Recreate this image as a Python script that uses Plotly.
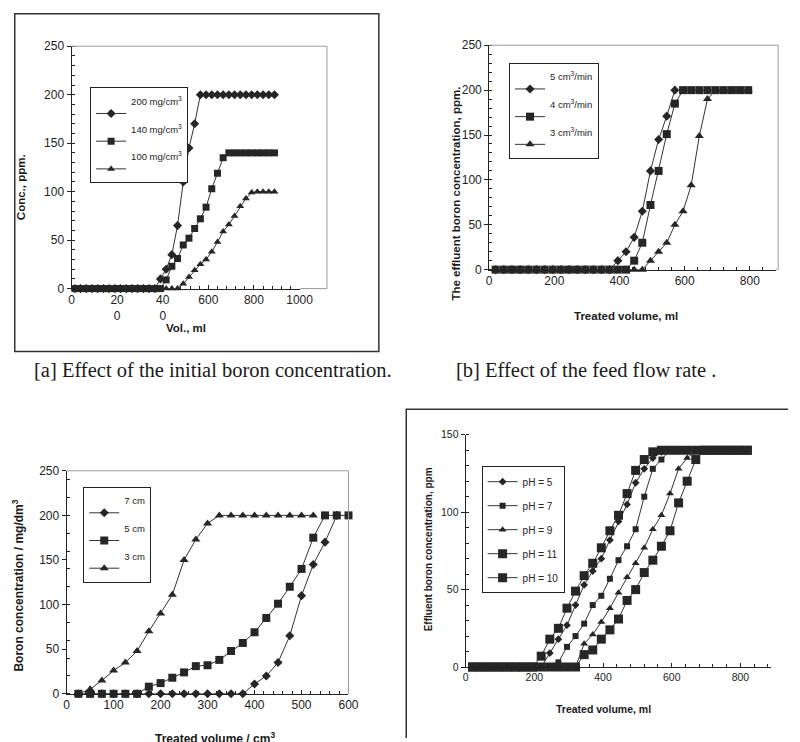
import plotly.graph_objects as go

W, H = 800, 742
def px(x): return x / W
def py(y): return 1 - y / H

# ---------------- data ----------------
# [a] effect of initial boron concentration
a_x = [15, 40, 65, 90, 115, 140, 165, 190, 215, 240, 265, 290, 315, 340, 365, 390, 415, 440,
       465, 490, 515, 540, 565, 590, 615, 640, 665, 690, 715, 740, 765, 790, 815, 840, 865, 890]
a_200 = [0, 0, 0, 0, 0, 0, 0, 0, 0, 0, 0, 0, 0, 0, 0, 10, 20, 35, 65, 110, 145, 170,
         200, 200, 200, 200, 200, 200, 200, 200, 200, 200, 200, 200, 200, 200]
a_140 = [0, 0, 0, 0, 0, 0, 0, 0, 0, 0, 0, 0, 0, 0, 0, 0, 9, 23, 31, 45, 52, 62, 72, 84, 103,
         119, 135, 140, 140, 140, 140, 140, 140, 140, 140, 140]
a_100 = [0, 0, 0, 0, 0, 0, 0, 0, 0, 0, 0, 0, 0, 0, 0, 0, 0, 0, 0, 5, 12, 19, 25, 30, 38, 48,
         59, 66, 75, 85, 93, 99, 100, 100, 100, 100]
a_names = ["200 mg/cm<sup>3</sup>", "140 mg/cm<sup>3</sup>", "100 mg/cm<sup>3</sup>"]
a_xticks = [0, 200, 400, 600, 800, 1000]
a_xticktext = ["0", "20<br>0", "40<br>0", "600", "800", "1000"]

# [b] effect of feed flow rate
b_x = [20, 45, 70, 95, 120, 145, 170, 195, 220, 245, 270, 295, 320, 345, 370, 395, 420, 445,
       470, 495, 520, 545, 570, 595, 620, 645, 670, 695, 720, 745, 770, 795]
b_x5 = [20, 45, 70, 95, 120, 145, 170, 195, 220, 245, 270, 295, 320, 345, 370, 395, 420, 445,
        470, 495, 520, 545, 570]
b_5 = [0, 0, 0, 0, 0, 0, 0, 0, 0, 0, 0, 0, 0, 0, 0, 10, 20, 36, 65, 110, 145, 171, 200]
b_4 = [0, 0, 0, 0, 0, 0, 0, 0, 0, 0, 0, 0, 0, 0, 0, 0, 0, 10, 30, 72, 110, 151, 185,
       200, 200, 200, 200, 200, 200, 200, 200, 200]
b_3 = [0, 0, 0, 0, 0, 0, 0, 0, 0, 0, 0, 0, 0, 0, 0, 0, 0, 0, 0, 10, 20, 30, 50, 65, 94,
       149, 190, 200, 200, 200, 200, 200]
b_names = ["5 cm<sup>3</sup>/min", "4 cm<sup>3</sup>/min", "3 cm<sup>3</sup>/min"]

# [c] effect of bed height
c_x = [25, 50, 75, 100, 125, 150, 175, 200, 225, 250, 275, 300, 325, 350, 375, 400, 425, 450,
       475, 500, 525, 550, 575, 600]
c_x7 = c_x[:23]
c_7 = [0, 0, 0, 0, 0, 0, 0, 0, 0, 0, 0, 0, 0, 0, 0, 11, 20, 35, 65, 110, 145, 170, 200]
c_5 = [0, 0, 0, 0, 0, 0, 8, 12, 18, 24, 31, 32, 38, 48, 57, 69, 85, 101, 120, 140, 175,
       200, 200, 200]
c_x3 = c_x[:21]
c_3 = [0, 5, 15, 26, 35, 48, 70, 90, 111, 150, 173, 191, 200, 200, 200, 200, 200, 200, 200,
       200, 200]
c_names = ["7 cm", "5 cm", "3 cm"]

# [d] effect of pH
d_x = [20, 45, 70, 95, 120, 145, 170, 195, 220, 245, 270, 295, 320, 345, 370, 395, 420, 445,
       470, 495, 520, 545, 570, 595, 620, 645, 670, 695, 720, 745, 770, 795, 820]
d_5 = [0, 0, 0, 0, 0, 0, 0, 0, 0, 9, 18, 27, 40, 53, 62, 70, 82, 94, 105, 119, 128, 135, 139,
       140, 140, 140, 140, 140, 140, 140, 140, 140, 140]
d_7 = [0, 0, 0, 0, 0, 0, 0, 0, 0, 0, 3, 13, 20, 28, 40, 46, 57, 69, 78, 89, 110, 128, 134,
       140, 140, 140, 140, 140, 140, 140, 140, 140, 140]
d_9 = [0, 0, 0, 0, 0, 0, 0, 0, 0, 0, 0, 0, 0, 15, 21, 29, 38, 48, 58, 67, 77, 89, 98, 112,
       128, 135, 140, 140, 140, 140, 140, 140, 140]
d_11 = [0, 0, 0, 0, 0, 0, 0, 0, 7, 18, 25, 38, 49, 59, 67, 77, 88, 98, 112, 127, 134, 139,
        140, 140, 140, 140, 140, 140, 140, 140, 140, 140, 140]
d_10 = [0, 0, 0, 0, 0, 0, 0, 0, 0, 0, 0, 0, 0, 8, 11, 18, 24, 31, 43, 50, 61, 69, 78, 88, 106,
        120, 134, 140, 140, 140, 140, 140, 140]
d_names = ["pH = 5", "pH = 7", "pH = 9", "pH = 11", "pH = 10"]

captions = ["[a] Effect of the initial boron concentration.", "[b] Effect of the feed flow rate ."]

# ---------------- styling ----------------
LINE = "#333333"
MK = "#262626"
FONT = "Liberation Sans, Arial, sans-serif"
SERIF = "Liberation Serif, Times New Roman, serif"

fig = go.Figure()

def add(xs, ys, name, sym, size, xa, ya, leg, group=None):
    fig.add_trace(go.Scatter(
        x=xs, y=ys, name=name, mode="lines+markers", xaxis=xa, yaxis=ya, legend=leg,
        legendgroup=group,
        line=dict(color=LINE, width=1),
        marker=dict(symbol=sym, size=size, color=MK, line=dict(width=0)),
        cliponaxis=False))

# two-line names so that the label sits above the key, as in the reference
def up(n):
    return n + "<br>\u00a0"

add(a_x, a_200, up(a_names[0]), "diamond", 7, "x", "y", "legend")
add(a_x, a_140, up(a_names[1]), "square", 7, "x", "y", "legend")
add(a_x, a_100, up(a_names[2]), "triangle-up", 7, "x", "y", "legend")

add(b_x5, b_5, up(b_names[0]), "diamond", 7, "x2", "y2", "legend2")
add(b_x, b_4, up(b_names[1]), "square", 8, "x2", "y2", "legend2")
add(b_x, b_3, up(b_names[2]), "triangle-up", 8, "x2", "y2", "legend2")

add(c_x7, c_7, up(c_names[0]), "diamond", 7, "x3", "y3", "legend3")
add(c_x, c_5, up(c_names[1]), "square", 8, "x3", "y3", "legend3")
add(c_x3, c_3, up(c_names[2]), "triangle-up", 8, "x3", "y3", "legend3")

add(d_x, d_5, d_names[0], "diamond", 6, "x4", "y4", "legend4", "d5")
add(d_x, d_7, d_names[1], "square", 6, "x4", "y4", "legend4", "d7")
add(d_x, d_9, d_names[2], "triangle-up", 7, "x4", "y4", "legend4", "d9")
add(d_x, d_11, d_names[3], "square", 9, "x4", "y4", "legend4", "d11")
add(d_x, d_10, d_names[4], "square", 9, "x4", "y4", "legend4", "d10")

def xax(dom, rng, dtick, minor, fs, anchor, **kw):
    d = dict(domain=[px(dom[0]), px(dom[1])], range=rng, dtick=dtick, anchor=anchor,
             showline=True, linecolor="#222", linewidth=1, showgrid=False, zeroline=False,
             ticks="inside", ticklen=4, tickcolor="#222",
             minor=dict(ticks="inside", ticklen=3, dtick=minor, tickcolor="#222", showgrid=False),
             tickfont=dict(family=FONT, size=fs, color="#222"), fixedrange=True)
    d.update(kw)
    return d

def yax(dom, rng, dtick, minor, fs, anchor):
    return dict(domain=[py(dom[1]), py(dom[0])], range=rng, dtick=dtick, anchor=anchor,
                showline=True, linecolor="#222", linewidth=1, showgrid=False, zeroline=False,
                ticks="outside", ticklen=4, tickcolor="#222",
                minor=dict(ticks="inside", ticklen=3, dtick=minor, tickcolor="#222", showgrid=False),
                tickfont=dict(family=FONT, size=fs, color="#222"), fixedrange=True)

layout = dict(
    width=W, height=H, margin=dict(l=0, r=0, t=0, b=0),
    paper_bgcolor="white", plot_bgcolor="white", showlegend=True,
    xaxis=xax((70, 303), [0, 1000], 200, 40, 12, "y", tickmode="array",
              tickvals=a_xticks, ticktext=a_xticktext),
    yaxis=yax((40, 287), [0, 250], 50, 10, 12, "x"),
    xaxis2=xax((496.7, 789.7), [0, 880], 200, 40, 12, "y2"),
    yaxis2=yax((39, 267.7), [0, 250], 50, 10, 12, "x2"),
    xaxis3=xax((65, 353), [0, 600], 100, 20, 12, "y3"),
    yaxis3=yax((472.7, 700), [0, 250], 50, 20, 12, "x3"),
    xaxis4=xax((472.7, 785), [0, 890], 200, 40, 10.5, "y4"),
    yaxis4=yax((436, 672.7), [0, 150], 50, 10, 10.5, "x4"),
)

def leg(x, y, fs, valign, gap=0):
    return dict(x=px(x), y=py(y), xanchor="left", yanchor="top", xref="paper", yref="paper",
                bgcolor="white", bordercolor="#222", borderwidth=1, valign=valign,
                font=dict(family=FONT, size=fs, color="#222"), itemwidth=30,
                tracegroupgap=gap, itemclick=False, itemdoubleclick=False)

layout["legend"] = leg(89, 82, 9.5, "bottom")
layout["legend2"] = leg(517, 57, 9.5, "bottom")
layout["legend3"] = leg(82, 489, 9.5, "bottom")
layout["legend4"] = leg(489, 468, 10, "middle", gap=5)

fig.update_layout(**layout)

# ---------------- frames ----------------
def P(x, y):
    return f"{px(x)},{py(y)}"

shapes = [
    # outer frame of panel a
    dict(type="rect", xref="paper", yref="paper", x0=px(12), x1=px(384), y0=py(351), y1=py(7),
         line=dict(color="#333", width=1.5)),
    # grey plot-area borders
    dict(type="path", xref="paper", yref="paper",
         path=f"M {P(70, 40)} L {P(331, 40)} L {P(331, 287)} L {P(303.5, 287)}",
         line=dict(color="#9a9a9a", width=1)),
    dict(type="path", xref="paper", yref="paper",
         path=f"M {P(497, 39)} L {P(792, 39)} L {P(792, 267.7)} L {P(790, 267.7)}",
         line=dict(color="#9a9a9a", width=1)),
    dict(type="path", xref="paper", yref="paper",
         path=f"M {P(65, 472.7)} L {P(353, 472.7)} L {P(353, 700)}",
         line=dict(color="#9a9a9a", width=1)),
    # frame of panel d
    dict(type="path", xref="paper", yref="paper",
         path=f"M {P(412, 745)} L {P(412, 410)} L {P(802, 410)}",
         line=dict(color="#333", width=1.5)),
]
fig.update_layout(shapes=shapes)

def ann(text, x, y, size, angle=0, bold=True, family=FONT, yanchor="middle"):
    fig.add_annotation(text=f"<b>{text}</b>" if bold else text, x=px(x), y=py(y),
                       xref="paper", yref="paper", showarrow=False, textangle=angle,
                       xanchor="center", yanchor=yanchor,
                       font=dict(family=family, size=size, color="#1a1a1a"))

# axis titles
ann("Conc., ppm.", 18, 184, 11.5, -90)
ann("Vol., ml", 187, 327, 11.5)
ann("The effluent boron concentration, ppm.", 463, 190, 11.5, -90)
ann("Treated volume, ml", 637, 315, 11.5)
ann("Boron concentration / mg/dm<sup>3</sup>", 15, 590, 12, -90)
ann("Treated volume / cm<sup>3</sup>", 217, 735, 12, yanchor="top")
ann("Effluent boron concentration, ppm", 435, 553, 10, -90)
ann("Treated volume, ml", 614, 716, 10.5)
# captions
ann(captions[0], 215, 370, 20.5, bold=False, family=SERIF)
ann(captions[1], 596, 370, 20.5, bold=False, family=SERIF)

fig.write_html("out.html", config={"displayModeBar": False, "staticPlot": True},
               post_script="document.body.style.margin='0';document.body.style.overflow='hidden';")
